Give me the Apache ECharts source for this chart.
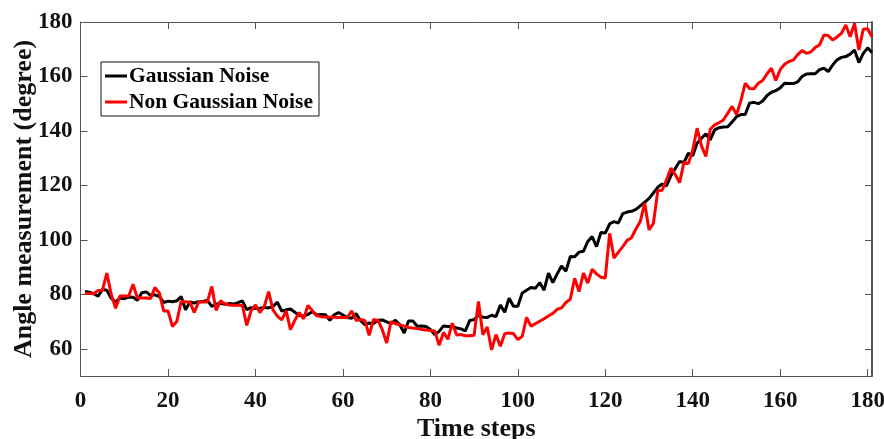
<!DOCTYPE html>
<html>
<head>
<meta charset="utf-8">
<script src="https://cdn.jsdelivr.net/npm/echarts@6/dist/echarts.min.js"></script>
<style>html,body{margin:0;padding:0;background:#fff;}#c{width:884px;height:439px;}</style>
</head>
<body>
<div id="c"></div>
<script>
// Time steps 1..181
const gaussian = [
81.0,80.8,80.2,79.3,81.8,81.5,78.5,77.2,78.6,78.4,
79.0,78.9,77.8,80.6,80.9,79.6,79.8,79.2,77.0,77.5,
77.3,77.6,79.2,74.3,77.2,76.8,77.3,77.4,77.8,75.6,
76.4,76.7,76.3,76.6,76.4,76.9,77.6,74.4,75.1,74.8,
74.9,75.2,75.0,75.6,77.1,73.8,74.3,74.6,73.4,72.2,
72.0,72.6,73.7,72.4,72.6,72.5,70.4,72.5,73.3,72.4,
71.5,71.2,72.9,70.4,68.8,69.5,69.3,70.5,70.6,69.9,
69.2,70.5,68.8,65.8,70.2,70.2,68.3,68.4,68.2,67.1,
65.2,66.4,68.4,68.2,68.3,67.6,67.3,66.6,70.4,70.7,
72.3,71.6,71.5,72.3,71.8,76.1,73.4,78.6,75.6,75.6,
80.5,81.5,82.5,82.2,84.3,81.5,87.8,84.3,87.5,90.4,
88.5,93.9,93.8,95.5,95.8,99.4,101.2,97.5,102.7,102.5,
105.9,106.7,106.2,109.6,110.2,110.5,111.2,112.5,113.8,115.2,
117.2,119.3,120.5,119.8,123.5,126.2,128.8,128.4,131.8,130.9,
135.5,137.3,138.9,136.7,140.4,141.2,141.4,141.5,143.3,145.2,
146.0,146.0,150.2,150.5,150.0,151.0,153.0,154.2,154.8,155.8,
157.5,157.4,157.4,158.0,160.0,160.9,161.0,161.0,162.5,163.0,
161.8,164.2,166.1,167.0,167.3,168.2,169.7,165.1,168.5,170.5,
168.8
];
const nonGaussian = [
80.4,80.3,80.2,81.4,81.5,87.8,80.0,74.9,79.4,79.4,
79.4,83.7,78.6,78.6,78.6,78.5,82.5,80.5,73.9,73.9,
68.2,70.0,77.4,77.3,77.1,73.3,77.2,77.2,77.2,82.9,
74.1,77.6,76.5,76.1,76.0,76.0,75.9,68.6,74.0,76.1,
73.3,75.5,81.0,74.3,72.0,70.6,73.9,67.0,70.5,73.3,
71.0,75.9,74.0,72.1,71.8,71.7,71.6,71.6,71.5,71.5,
71.4,73.9,70.4,70.8,70.4,64.9,70.8,70.4,67.0,62.1,
70.0,69.2,68.8,68.3,67.8,67.6,67.4,67.1,66.9,66.7,
66.5,61.3,66.0,63.5,69.4,65.1,65.2,64.8,64.8,65.0,
77.4,65.1,68.0,59.6,65.2,60.9,65.5,65.8,65.6,63.4,
64.5,71.5,68.3,69.2,70.1,71.0,72.0,73.0,74.5,75.0,
77.0,78.2,85.9,81.0,87.8,84.1,89.2,87.5,86.3,86.0,
102.4,93.3,95.5,97.5,99.8,100.8,104.0,106.7,113.5,103.7,
106.0,118.0,118.2,122.0,126.3,124.0,121.0,128.5,128.0,133.0,
141.0,134.5,130.6,140.6,142.2,143.0,144.0,146.5,149.0,146.0,
151.0,157.5,155.6,155.5,157.5,158.5,161.0,163.0,158.5,162.5,
164.5,165.5,166.0,168.0,169.5,168.5,169.0,170.6,171.6,175.2,
175.0,173.4,174.5,175.8,178.9,174.6,179.5,169.7,177.3,177.5,
174.6
];
const yTicks = [60, 80, 100, 120, 140, 160, 180];
const seriesNames = ['Gaussian Noise', 'Non Gaussian Noise'];
const xLabel = 'Time steps';
const yLabel = 'Angle measurement (degree)';

const toPairs = arr => arr.map((v, i) => [i + 1, v]);
const font = 'Liberation Serif, Times New Roman, serif';
const axisCol = '#555';
const chart = echarts.init(document.getElementById('c'), null, {renderer: 'canvas'});
chart.setOption({
  animation: false,
  backgroundColor: '#fff',
  grid: {left: 80.6, right: 12, top: 22, bottom: 63, containLabel: false, outerBoundsMode: 'none'},
  legend: {
    orient: 'vertical', left: 101, top: 62,
    backgroundColor: '#fff', borderColor: '#111', borderWidth: 1,
    padding: [3, 6, 3, 4], itemGap: 4, itemWidth: 22, itemHeight: 3,
    icon: 'rect',
    textStyle: {fontFamily: font, fontWeight: 'bold', fontSize: 21.5, lineHeight: 22, color: '#000', padding: [0, 0, 0, -3]},
    data: seriesNames
  },
  xAxis: [{
    type: 'value', min: 0, max: 181, interval: 20,
    name: xLabel, nameLocation: 'middle', nameGap: 40, nameMoveOverlap: false,
    nameTextStyle: {fontFamily: font, fontWeight: 'bold', fontSize: 26, color: '#111'},
    axisLine: {show: true, onZero: false, lineStyle: {color: axisCol, width: 1}},
    axisTick: {show: true, inside: true, length: 7, lineStyle: {color: axisCol}},
    axisLabel: {fontFamily: font, fontWeight: 'bold', fontSize: 23, color: '#111', margin: 14,
      formatter: v => (v % 20 === 0 ? String(v) : '')},
    splitLine: {show: false}
  }, {
    type: 'value', min: 0, max: 181, interval: 20, position: 'top',
    axisLine: {show: true, onZero: false, lineStyle: {color: axisCol, width: 1}},
    axisTick: {show: true, inside: true, length: 7, lineStyle: {color: axisCol}},
    axisLabel: {show: false}, splitLine: {show: false}
  }],
  yAxis: [{
    type: 'value', min: 50, max: 180,
    name: yLabel, nameLocation: 'middle', nameGap: 43, nameRotate: 90, nameMoveOverlap: false,
    nameTextStyle: {fontFamily: font, fontWeight: 'bold', fontSize: 26, color: '#111'},
    axisLine: {show: true, onZero: false, lineStyle: {color: axisCol, width: 1}},
    axisTick: {show: true, inside: true, length: 7, lineStyle: {color: axisCol}, customValues: yTicks},
    axisLabel: {fontFamily: font, fontWeight: 'bold', fontSize: 23, color: '#111', margin: 8, customValues: yTicks},
    splitLine: {show: false}
  }, {
    type: 'value', min: 50, max: 180, position: 'right',
    axisLine: {show: true, onZero: false, lineStyle: {color: axisCol, width: 2}},
    axisTick: {show: true, inside: true, length: 7, lineStyle: {color: axisCol}, customValues: yTicks},
    axisLabel: {show: false}, splitLine: {show: false}
  }],
  series: [{
    name: seriesNames[0], type: 'line', data: toPairs(gaussian),
    showSymbol: false, symbol: 'none', color: '#000',
    lineStyle: {color: '#000', width: 3}, z: 2
  }, {
    name: seriesNames[1], type: 'line', data: toPairs(nonGaussian),
    showSymbol: false, symbol: 'none', color: '#ff0000',
    lineStyle: {color: '#ff0000', width: 3}, z: 3
  }]
});
</script>
</body>
</html>
